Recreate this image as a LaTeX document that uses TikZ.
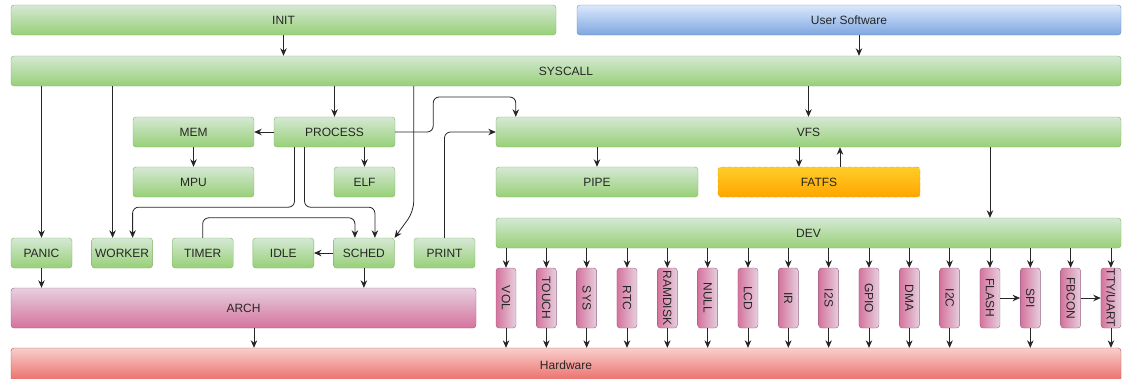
\documentclass[tikz,border=0pt]{standalone}
\usepackage{fontspec}
\setmainfont{Liberation Sans}
\usetikzlibrary{arrows.meta}

\definecolor{grTop}{HTML}{D5E8D4}
\definecolor{grBot}{HTML}{97D077}
\definecolor{grEdge}{HTML}{82B366}
\definecolor{blTop}{HTML}{DAE8FC}
\definecolor{blBot}{HTML}{7EA6E0}
\definecolor{blEdge}{HTML}{6C8EBF}
\definecolor{pkTop}{HTML}{E6D0DE}
\definecolor{pkBot}{HTML}{D5739D}
\definecolor{pkEdge}{HTML}{996185}
\definecolor{rdTop}{HTML}{F8CECC}
\definecolor{rdBot}{HTML}{EA6B66}
\definecolor{rdEdge}{HTML}{B85450}
\definecolor{orTop}{HTML}{FFCD28}
\definecolor{orBot}{HTML}{FFA500}
\definecolor{orEdge}{HTML}{D79B00}

\begin{document}
\begin{tikzpicture}[x=1pt,y=-1pt,
    box/.style={draw,rounded corners=3pt,inner sep=0pt,text=black!85,
      font=\fontsize{12}{14}\selectfont},
    greenbox/.style={box,draw=grEdge,top color=grTop,bottom color=grBot},
    bluebox/.style={box,draw=blEdge,top color=blTop,bottom color=blBot},
    pinkbox/.style={box,draw=pkEdge,top color=pkTop,bottom color=pkBot},
    redbox/.style={box,draw=rdEdge,top color=rdTop,bottom color=rdBot},
    fsbox/.style={box,draw=orEdge,dashed,top color=orTop,bottom color=orBot},
    devbox/.style={box,draw=pkEdge,left color=pkBot,right color=pkTop,
      minimum width=20pt,minimum height=60pt},
    smallbox/.style={greenbox,minimum width=61pt,minimum height=30pt},
    arr/.style={-{Stealth[length=7.5pt,width=6.5pt]},black!85,line width=0.8pt}]

\clip (0,0) rectangle (1122,378);

% top layer
\node[greenbox,minimum width=545pt,minimum height=30pt] (init) at (283.5,20) {INIT};
\node[bluebox,minimum width=544pt,minimum height=30pt] (user) at (849,20) {User Software};
\node[greenbox,minimum width=1110pt,minimum height=30pt] (syscall) at (566,71) {SYSCALL};

% process side
\node[greenbox,minimum width=121pt,minimum height=30pt] (mem) at (193.5,132) {MEM};
\node[greenbox,minimum width=121pt,minimum height=30pt] (process) at (334.5,132) {PROCESS};
\node[greenbox,minimum width=121pt,minimum height=30pt] (mpu) at (193.5,182) {MPU};
\node[smallbox] (elf) at (364.5,182) {ELF};

\node[smallbox] (panic) at (41.5,253) {PANIC};
\node[smallbox] (worker) at (122.1,253) {WORKER};
\node[smallbox] (timer) at (202.7,253) {TIMER};
\node[smallbox] (idle) at (283.3,253) {IDLE};
\node[smallbox] (sched) at (363.9,253) {SCHED};
\node[smallbox] (print) at (444.5,253) {PRINT};

\node[pinkbox,minimum width=465pt,minimum height=40pt] (arch) at (243.5,308) {ARCH};

% file side
\node[greenbox,minimum width=625pt,minimum height=30pt] (vfs) at (808.5,132) {VFS};
\node[greenbox,minimum width=202pt,minimum height=30pt] (pipe) at (597,182) {PIPE};
\node[fsbox,minimum width=202pt,minimum height=30pt] (fatfs) at (819,182) {FATFS};
\node[greenbox,minimum width=625pt,minimum height=30pt] (dev) at (808.5,233) {DEV};

\foreach \name [count=\i from 0] in {VOL,TOUCH,SYS,RTC,RAMDISK,NULL,LCD,IR,I2S,GPIO,DMA,I2C,FLASH,SPI,FBCON,TTY/UART}
  \node[devbox] (d\i) at (506+40.33*\i,298) {\rotatebox{-90}{\name}};

\node[redbox,minimum width=1110pt,minimum height=34pt] (hw) at (566,365) {Hardware};

% helper points
\coordinate (wk) at ([xshift=-9.5pt]worker.north);
\coordinate (us) at ([xshift=10pt]user.south);
\coordinate (vfsin) at ([xshift=20pt]vfs.north west);
\coordinate (fsin) at ([xshift=-20pt]fatfs.north);
\coordinate (fsout) at ([xshift=21pt]fatfs.north);
\coordinate (archout) at ([xshift=10.5pt]arch.south);

% connectors
\draw[arr] (init.south) -- (init.south |- syscall.north);
\draw[arr] (us) -- (us |- syscall.north);
\draw[arr] (syscall.south -| panic.north) -- (panic.north);
\draw[arr] (syscall.south -| wk) -- (wk);
\draw[arr] (syscall.south -| process.north) -- (process.north);
\draw[arr,rounded corners=10pt] (syscall.south -| print.west) -- ++(0,125) -- (sched.north east);
\draw[arr] (syscall.south -| vfs.north) -- (vfs.north);

\draw[arr] (process.west) -- (mem.east);
\draw[arr] (mem.south) -- (mpu.north);
\draw[arr] (process.south -| elf.north) -- (elf.north);
\draw[arr,rounded corners=6pt] ([xshift=-40pt]process.south) -- ++(0,60) -| ([xshift=10.5pt]worker.north);
\draw[arr,rounded corners=6pt] ([xshift=-30pt]process.south) -- ++(0,60) -| ([xshift=11pt]sched.north);
\draw[arr,rounded corners=6pt] (timer.north) -- ++(0,-20) -| ([xshift=-9pt]sched.north);
\draw[arr] (sched.west) -- (idle.east);
\draw[arr,rounded corners=6pt] (process.east) -- ++(38,0) -- ++(0,-35) -| (vfsin);
\draw[arr,rounded corners=6pt] (print.north) |- (vfs.west);

\draw[arr] (panic.south) -- (panic.south |- arch.north);
\draw[arr] (sched.south) -- (sched.south |- arch.north);
\draw[arr] (archout) -- (archout |- hw.north);

\draw[arr] (vfs.south -| pipe.north) -- (pipe.north);
\draw[arr] (vfs.south -| fsin) -- (fsin);
\draw[arr] (fsout) -- (fsout |- vfs.south);
\draw[arr] (vfs.south -| d12.north) -- (d12.north |- dev.north);

\foreach \i in {0,...,15}
  \draw[arr] (dev.south -| d\i.north) -- (d\i.north);
\foreach \i in {0,...,11,13,15}
  \draw[arr] (d\i.south) -- (d\i.south |- hw.north);
\draw[arr] (d12.east) -- (d13.west);
\draw[arr] (d14.east) -- (d15.west);

\end{tikzpicture}
\end{document}
